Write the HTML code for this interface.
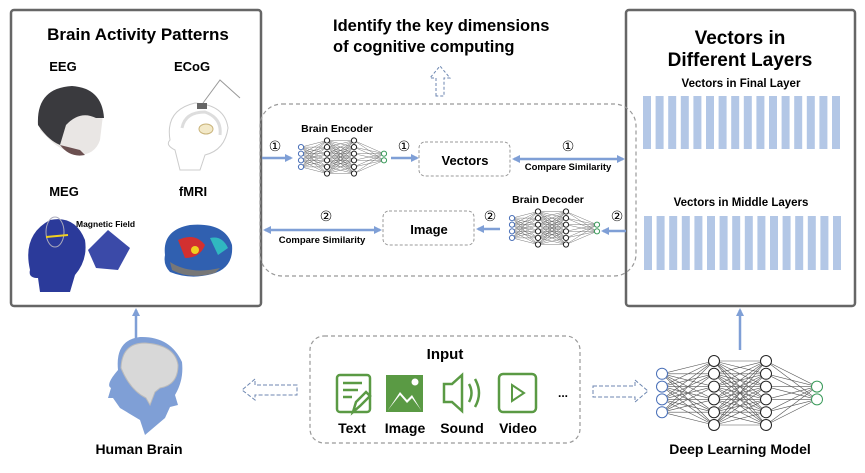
<!DOCTYPE html>
<html><head><meta charset="utf-8"><style>
html,body{margin:0;padding:0;background:#fff;}
svg{display:block;font-family:"Liberation Sans",sans-serif;font-weight:bold;}
</style></head><body>
<svg id="s" width="865" height="473" viewBox="0 0 865 473" xmlns="http://www.w3.org/2000/svg">
<defs>
<marker id="ah" markerWidth="8" markerHeight="8" refX="6" refY="4" orient="auto-start-reverse" markerUnits="userSpaceOnUse"><path d="M0,0 L8,4 L0,8 Z" fill="#7f9fd6"/></marker>
</defs>
<!-- panels -->
<rect x="11" y="10" width="250" height="296" rx="3" fill="#fff" stroke="#666" stroke-width="2.5"/>
<rect x="626" y="10" width="229" height="296" rx="3" fill="#fff" stroke="#666" stroke-width="2.5"/>
<rect x="260" y="104" width="376" height="172" rx="22" fill="none" stroke="#999" stroke-width="1.2" stroke-dasharray="4,3"/>
<rect x="310" y="336" width="270" height="107" rx="14" fill="none" stroke="#999" stroke-width="1.2" stroke-dasharray="4,3"/>

<!-- left panel text -->
<text x="138" y="40" font-size="17" text-anchor="middle">Brain Activity Patterns</text>
<text x="63" y="71" font-size="13" text-anchor="middle">EEG</text>
<text x="192" y="71" font-size="13" text-anchor="middle">ECoG</text>
<text x="64" y="196" font-size="13" text-anchor="middle">MEG</text>
<text x="193" y="196" font-size="13" text-anchor="middle">fMRI</text>
<text x="76" y="227" font-size="8.5">Magnetic Field</text>
<!-- EEG cap -->
<path d="M40,130 Q40,90 75,88 Q100,90 103,115 L100,140 Q95,155 78,155 Q60,150 50,140 Z" fill="#e9e6e4"/>
<path d="M38,125 Q36,88 72,86 Q102,88 104,118 L96,118 Q80,110 66,125 L60,145 Q48,140 38,125 Z" fill="#3a3a3e"/>
<path d="M60,145 Q70,158 85,155 L80,150 Z" fill="#6b5050"/>
<!-- ECoG -->
<path d="M170,140 Q165,110 195,103 Q225,105 228,128 Q225,150 205,155 L200,170 L180,170 L175,150 Q165,145 170,140Z" fill="none" stroke="#ccc" stroke-width="1"/>
<path d="M182,128 Q185,112 205,112 Q222,118 220,135" fill="none" stroke="#ddd" stroke-width="3"/>
<rect x="197" y="103" width="10" height="6" fill="#666"/>
<ellipse cx="206" cy="129" rx="7" ry="5" fill="#f3e9c8" stroke="#c9b37a"/>
<path d="M203,103 L220,80 L240,98" fill="none" stroke="#999" stroke-width="1"/>
<!-- MEG -->
<path d="M30,270 Q22,235 50,220 Q75,215 85,240 Q88,260 75,275 L70,292 L40,292 L38,278 Q28,278 30,270Z" fill="#2b3a9a"/>
<ellipse cx="55" cy="232" rx="9" ry="15" fill="none" stroke="#aab" stroke-width="1"/>
<path d="M88,250 L108,230 L130,248 L118,270 L96,268 Z" fill="#3b4aa8"/>
<line x1="46" y1="237" x2="68" y2="235" stroke="#f0d020" stroke-width="2"/>
<!-- fMRI -->
<path d="M165,255 Q162,230 190,225 Q225,222 232,245 Q234,268 212,274 Q190,280 170,272 Q163,265 165,255Z" fill="#3060b0"/>
<path d="M178,240 Q195,232 205,245 Q200,258 185,258Z" fill="#d23030"/>
<path d="M210,238 Q222,235 228,248 L218,255Z" fill="#30b8c0"/>
<path d="M170,262 Q190,275 220,268 L215,273 Q190,280 172,270Z" fill="#777"/>
<circle cx="195" cy="250" r="4" fill="#f0d020"/>

<!-- right panel -->
<text x="740" y="44" font-size="19" text-anchor="middle">Vectors in</text>
<text x="740" y="66" font-size="19" text-anchor="middle">Different Layers</text>
<text x="741" y="87" font-size="11.5" text-anchor="middle">Vectors in Final Layer</text>
<text x="741" y="206" font-size="11.5" text-anchor="middle">Vectors in Middle Layers</text>
<g id="bars" fill="#b3c7e6"></g>

<!-- top title -->
<text x="333" y="31" font-size="16.5">Identify the key dimensions</text>
<text x="333" y="52" font-size="16.5">of cognitive computing</text>
<path d="M436,96 L436,78 L430,78 L440,66 L450,78 L444,78 L444,96 Z" fill="none" stroke="#6c86b0" stroke-width="1" stroke-dasharray="3,2"/>

<!-- middle -->
<text x="337" y="132" font-size="10.5" text-anchor="middle">Brain Encoder</text>
<text x="548" y="203" font-size="10.5" text-anchor="middle">Brain Decoder</text>
<g font-weight="normal" font-size="14" font-family="DejaVu Sans, sans-serif" text-anchor="middle">
<text x="275" y="151">①</text><text x="404" y="151">①</text><text x="568" y="151">①</text>
<text x="326" y="221">②</text><text x="490" y="221">②</text><text x="617" y="221">②</text>
</g>
<g stroke="#7f9fd6" stroke-width="2.5" fill="none">
<line x1="262" y1="158" x2="291" y2="158" marker-end="url(#ah)"/>
<line x1="391" y1="158" x2="417" y2="158" marker-end="url(#ah)"/>
<line x1="514" y1="159" x2="623" y2="159" marker-start="url(#ah)" marker-end="url(#ah)"/>
<line x1="265" y1="230" x2="380" y2="230" marker-start="url(#ah)" marker-end="url(#ah)"/>
<line x1="500" y1="229" x2="478" y2="229" marker-end="url(#ah)"/>
<line x1="626" y1="231" x2="603" y2="231" marker-end="url(#ah)"/>
<line x1="136" y1="345" x2="136" y2="310" marker-end="url(#ah)"/>
<line x1="740" y1="350" x2="740" y2="310" marker-end="url(#ah)"/>
</g>
<rect x="419" y="142" width="91" height="34" rx="6" fill="#fff" stroke="#999" stroke-dasharray="3,2"/>
<text x="465" y="165" font-size="13" text-anchor="middle">Vectors</text>
<text x="568" y="170" font-size="9.5" text-anchor="middle">Compare Similarity</text>
<rect x="383" y="211" width="91" height="34" rx="6" fill="#fff" stroke="#999" stroke-dasharray="3,2"/>
<text x="429" y="234" font-size="13" text-anchor="middle">Image</text>
<text x="322" y="243" font-size="9.5" text-anchor="middle">Compare Similarity</text>
<g id="nets"></g>

<!-- input -->
<text x="445" y="359" font-size="15" text-anchor="middle">Input</text>
<g fill="none" stroke="#5a9a44" stroke-width="2.5">
<rect x="337" y="375" width="33" height="37" rx="3"/>
<line x1="343" y1="383" x2="362" y2="383"/><line x1="343" y1="390" x2="358" y2="390"/><line x1="343" y1="397" x2="352" y2="397"/>
<path d="M353,412 L356,402 L366,392 L370,396 L360,406 Z" fill="#fff"/>
<path d="M444,384 L452,384 L462,375 L462,411 L452,402 L444,402 Z"/>
<path d="M469,384 Q474,393 469,402"/><path d="M475,379 Q483,393 475,407"/>
<rect x="499" y="374" width="37" height="38" rx="4"/>
<path d="M512,385 L524,393 L512,401 Z" stroke-width="2"/>
</g>
<rect x="386" y="375" width="37" height="37" fill="#5a9a44"/>
<path d="M388,410 L400,392 L407,400 L412,395 L421,410 Z" fill="#fff"/>
<circle cx="415" cy="382" r="3.5" fill="#fff"/>
<path d="M388,410 L400,395 L407,403 L412,398 L421,410 Z" fill="#5a9a44"/>
<text x="563" y="397" font-size="12" text-anchor="middle">...</text>
<g font-size="14" text-anchor="middle">
<text x="352" y="433">Text</text><text x="405" y="433">Image</text><text x="462" y="433">Sound</text><text x="518" y="433">Video</text>
</g>

<!-- human brain -->
<path d="M118,370 Q115,340 140,337 Q170,336 182,362 Q184,380 175,395 L178,405 L170,407 L165,418 L145,435 L140,420 L120,408 L113,398 L108,398 L111,388 Q105,385 118,370 Z" fill="#7f9fd6"/>
<path d="M121,368 Q122,343 145,343 Q175,345 178,365 Q178,385 160,388 L155,392 L150,405 L146,398 Q130,390 121,368 Z" fill="#d8d8d8" stroke="#bbb"/>
<text x="139" y="454" font-size="14" text-anchor="middle">Human Brain</text>
<path d="M297,385 L255,385 L255,379 L242,390 L255,400 L255,395 L297,395 Z" fill="none" stroke="#6c86b0" stroke-width="1" stroke-dasharray="4,2"/>
<path d="M593,386 L635,386 L635,380 L648,391 L635,402 L635,397 L593,397 Z" fill="none" stroke="#6c86b0" stroke-width="1" stroke-dasharray="4,2"/>
<text x="740" y="454" font-size="14" text-anchor="middle">Deep Learning Model</text>
</svg>
<script>
var NS="http://www.w3.org/2000/svg";
function el(p,t,a){var e=document.createElementNS(NS,t);for(var k in a)e.setAttribute(k,a[k]);p.appendChild(e);return e;}
var bars=document.getElementById("bars");
for(var i=0;i<16;i++){var x=643+i*12.6;el(bars,"rect",{x:x,y:96,width:8,height:53});el(bars,"rect",{x:x+1,y:216,width:8,height:54});}
var nets=document.getElementById("nets");
function net(xs,cy,sp,r,sw){var cnt=[4,6,6,2],L=[];
for(var l=0;l<4;l++){var pts=[];for(var j=0;j<cnt[l];j++)pts.push([xs[l],cy+(j-(cnt[l]-1)/2)*sp]);L.push(pts);}
for(var l=0;l<3;l++)L[l].forEach(function(a){L[l+1].forEach(function(b){el(nets,"line",{x1:a[0],y1:a[1],x2:b[0],y2:b[1],stroke:"#555","stroke-width":sw});});});
for(var l=0;l<4;l++)L[l].forEach(function(a){el(nets,"circle",{cx:a[0],cy:a[1],r:r,fill:"#fff",stroke:l==0?"#4a70b8":(l==3?"#3a9a5a":"#222"),"stroke-width":1});});}
net([301,327,354,384],157,6.6,2.6,0.4);
net([512,538,566,597],228,6.6,2.6,0.4);
net([662,714,766,817],393,12.8,5.5,0.6);
</script>
</body></html>
